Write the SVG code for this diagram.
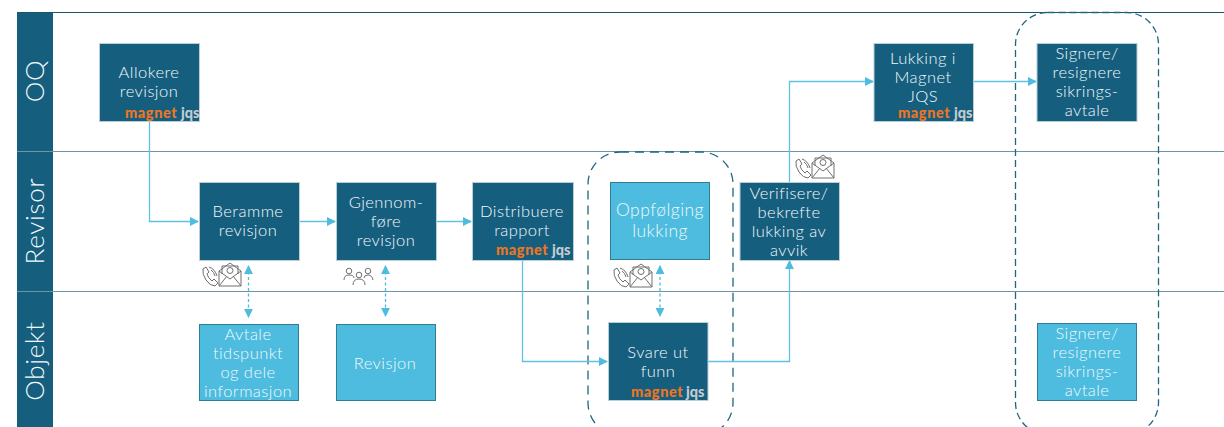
<svg xmlns="http://www.w3.org/2000/svg" width="1224" height="427" viewBox="0 0 1224 427">
<style>
text{font-family:"Lato","Open Sans","Liberation Sans",sans-serif}
.d{fill:#165e7e;stroke:#b9cfd8;stroke-width:1}
.l{fill:#4dbcdf;stroke:#2f7c96;stroke-width:1}
.t{fill:#f2f9fb;font-size:16.500px;font-weight:300;text-anchor:middle;letter-spacing:.45px}
.b{font-size:17.500px}
.h{fill:#f4fafc;font-size:26px;font-weight:300;text-anchor:middle;letter-spacing:.7px}
.m{fill:#ee7623;font-size:14.500px;font-weight:900;letter-spacing:.6px}
.j{fill:#c4ccd2;font-size:14.500px;font-weight:900}
.c{fill:none;stroke:#62c0e0;stroke-width:1.3}
.v{fill:none;stroke:#4dbcdf;stroke-width:1.3;stroke-dasharray:3 2.500}
.g{fill:none;stroke:#1e6684;stroke-width:1.300;stroke-dasharray:9 6}
.f{stroke-dasharray:7 4}
.i{fill:#fff;stroke:#6f6f6f;stroke-width:1}
.n{fill:none;stroke:#6f6f6f;stroke-width:1}
</style>
<defs>
<marker id="a" viewBox="0 0 10 10" refX="9" refY="5" markerWidth="9" markerHeight="9" markerUnits="userSpaceOnUse" orient="auto-start-reverse"><path d="M0 0L10 5L0 10Z" fill="#4dbcdf"/></marker>
<g id="mail">
<path class="i" d="M0 9L11 1L22 9V24H0Z"/>
<path class="n" d="M3 12V4H19V12M0 9L11 17L22 9M0 24L8 14M22 24L14 14"/>
<circle class="n" cx="11" cy="8.500" r="3"/>
</g>
<g id="phone">
<path class="n" d="M2 3L5 1L8 6L6 8Q7 12 11 15L13 13L17 17L14 20Q9 20 5 14Q1 8 2 3ZM8 1Q14 3 16 10M10 4Q13 6 14 10"/>
</g>
<g id="lane"><use href="#phone"/><use href="#mail" x="18" y="-4"/></g>
</defs>
<g id="lanes">
<rect x="17" y="12" width="36" height="415" fill="#165e7e"/>
<path d="M17 12.500H1224" fill="none" stroke="#1a5566" stroke-width="1"/>
<path d="M17 151.500H1224M17 291.500H1224" fill="none" stroke="#6d95a5" stroke-width="1"/>
<text class="h" transform="translate(44,81) rotate(-90)">OQ</text>
<text class="h" transform="translate(44,221) rotate(-90)">Revisor</text>
<text class="h" transform="translate(44,361) rotate(-90)">Objekt</text>
</g>
<g id="groups">
<rect class="g" x="588" y="152" width="145" height="283" rx="32"/>
<rect class="g f" x="1015.500" y="12.500" width="143" height="422" rx="32"/>
</g>
<g id="connectors">
<path class="c" marker-end="url(#a)" d="M149.500 121V221.500H198"/>
<path class="c" marker-end="url(#a)" d="M299 221.500H335"/>
<path class="c" marker-end="url(#a)" d="M436 221.500H471"/>
<path class="c" marker-end="url(#a)" d="M522.500 261V361.500H607"/>
<path class="c" marker-end="url(#a)" d="M708 361.500H789.500V261"/>
<path class="c" marker-end="url(#a)" d="M789.500 182V81.500H873"/>
<path class="c" marker-end="url(#a)" d="M973 81.500H1036"/>
<path class="v" marker-start="url(#a)" marker-end="url(#a)" d="M248.500 266V317"/>
<path class="v" marker-start="url(#a)" marker-end="url(#a)" d="M385.500 266V316"/>
<path class="v" marker-start="url(#a)" marker-end="url(#a)" d="M660 266V316"/>
</g>
<g id="allokere"><rect class="d" x="99.500" y="43.500" width="100" height="78"/>
<text class="t" x="149" y="78">Allokere</text><text class="t" x="149" y="97">revisjon</text>
<text class="m" x="125" y="118">magnet</text><text class="j" x="181" y="118">jqs</text></g>
<g id="beramme"><rect class="d" x="199.500" y="182.500" width="100" height="78"/>
<text class="t" x="248" y="217">Beramme</text><text class="t" x="248" y="236">revisjon</text></g>
<g id="gjennomfore"><rect class="d" x="336.500" y="182.500" width="100" height="78"/>
<text class="t" x="386" y="208">Gjennom-</text><text class="t" x="386" y="227">føre</text><text class="t" x="386" y="246">revisjon</text></g>
<g id="distribuere"><rect class="d" x="472.500" y="182.500" width="101" height="78"/>
<text class="t" x="522" y="217">Distribuere</text><text class="t" x="522" y="236">rapport</text>
<text class="m" x="496" y="255">magnet</text><text class="j" x="552" y="255">jqs</text></g>
<g id="oppfolging"><rect class="l" x="610.500" y="182.500" width="99" height="77"/>
<text class="t b" x="660" y="216">Oppfølging</text><text class="t b" x="660" y="237">lukking</text></g>
<g id="verifisere"><rect class="d" x="740" y="182.500" width="99.500" height="78"/>
<text class="t" x="789" y="199">Verifisere/</text><text class="t" x="789" y="218">bekrefte</text><text class="t" x="789" y="237">lukking av</text><text class="t" x="789" y="256">avvik</text></g>
<g id="lukking"><rect class="d" x="874" y="43.500" width="99.500" height="78"/>
<text class="t" x="923" y="64">Lukking i</text><text class="t" x="923" y="83">Magnet</text><text class="t" x="923" y="102">JQS</text>
<text class="m" x="898" y="118">magnet</text><text class="j" x="954" y="118">jqs</text></g>
<g id="signere-oq"><rect class="d" x="1037" y="43.500" width="100" height="78"/>
<text class="t" x="1087" y="59">Signere/</text><text class="t" x="1087" y="78">resignere</text><text class="t" x="1087" y="97">sikrings-</text><text class="t" x="1087" y="116">avtale</text></g>
<g id="avtale"><rect class="l" x="199.500" y="324.500" width="99" height="76"/>
<text class="t" x="248" y="340">Avtale</text><text class="t" x="248" y="359">tidspunkt</text><text class="t" x="248" y="378">og dele</text><text class="t" x="248" y="397">informasjon</text></g>
<g id="revisjon"><rect class="l" x="336.500" y="324.500" width="99" height="76"/>
<text class="t" x="385" y="369">Revisjon</text></g>
<g id="svare"><rect class="d" x="608.500" y="322.500" width="99.500" height="78"/>
<text class="t" x="658" y="358">Svare ut</text><text class="t" x="658" y="377">funn</text>
<text class="m" x="631" y="397">magnet</text><text class="j" x="686" y="397">jqs</text></g>
<g id="signere-objekt"><rect class="l" x="1037.500" y="323.500" width="99" height="77"/>
<text class="t" x="1087" y="339">Signere/</text><text class="t" x="1087" y="358">resignere</text><text class="t" x="1087" y="377">sikrings-</text><text class="t" x="1087" y="396">avtale</text></g>
<g id="icons">
<use href="#lane" x="201" y="266"/>
<use href="#lane" x="612" y="267"/>
<use href="#lane" x="794" y="158"/>
<g transform="translate(343,266)"><circle class="n" cx="6" cy="5" r="2.800"/><circle class="n" cx="16" cy="9" r="2.800"/><circle class="n" cx="25" cy="5" r="2.800"/><path class="n" d="M1 14Q1 9 6 9T11 12M21 12Q21 9 25 9T30 14M10 19Q10 13 16 13T22 19"/></g>
</g>
</svg>
